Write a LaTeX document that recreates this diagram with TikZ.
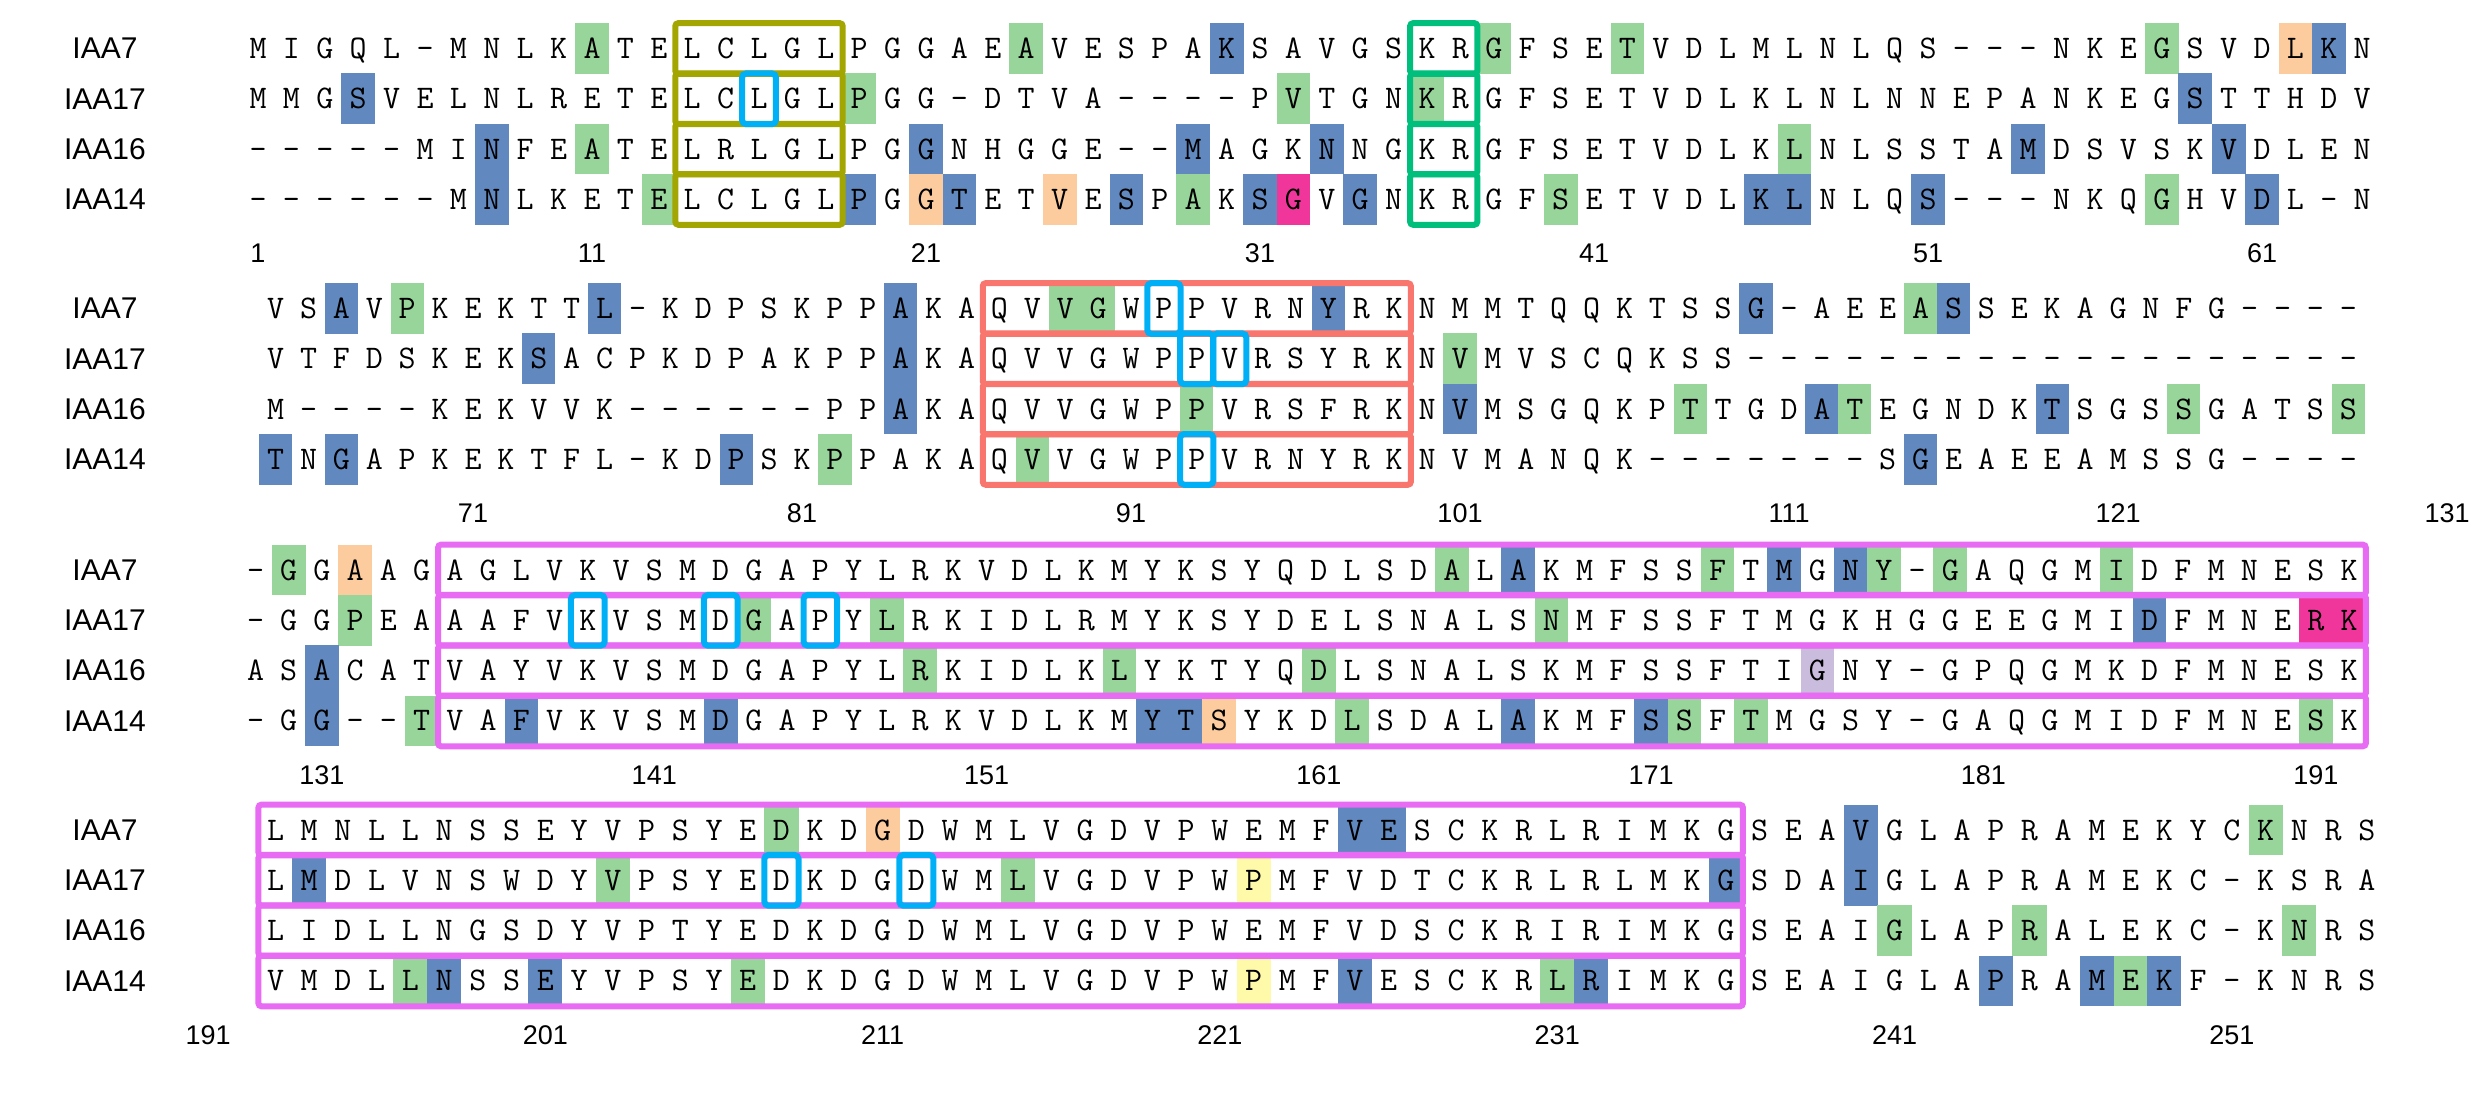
\documentclass[tikz,border=0pt]{standalone}
\usepackage{fontspec}
\setmainfont{Liberation Sans}
\usetikzlibrary{backgrounds}

\definecolor{hgr}{RGB}{152,213,154}
\definecolor{hbl}{RGB}{97,137,192}
\definecolor{hor}{RGB}{252,204,158}
\definecolor{hmg}{RGB}{240,54,154}
\definecolor{hlv}{RGB}{201,188,221}
\definecolor{hyl}{RGB}{255,250,170}
\definecolor{boxol}{RGB}{163,165,0}
\definecolor{boxtl}{RGB}{0,191,125}
\definecolor{boxsl}{RGB}{248,118,109}
\definecolor{boxcy}{RGB}{0,176,246}
\definecolor{boxvi}{RGB}{231,107,243}

% current block: number, x of column 1, column pitch, y of first row
\newcommand{\setblock}[4]{\def\blk{#1}\def\bxo{#2}\def\bpt{#3}\def\byo{#4}}
\newcommand{\seqrow}[2]{%
  \foreach \ch [count=\i] in {#2}
    \node[res,minimum width=\bpt pt] (b\blk r#1c\i) at ({\bxo+(\i-1)*\bpt},{\byo+(#1-1)*50.3}) {\ch};}
\newcommand{\rowtags}{%
  \foreach \nm [count=\rw] in {IAA7,IAA17,IAA16,IAA14}
    \node[tag] (tag\blk r\rw) at (105,{\byo+(\rw-1)*50.3}) {\nm};}
\newcommand{\ruler}[1]{%
  \foreach \n/\cn in {#1}
    \node[tick] (t\blk n\n) at ({\bxo+(\cn-1)*\bpt},{\byo+205}) {\n};}

\begin{document}
\begin{tikzpicture}[x=1pt,y=-1pt,
res/.style={font=\ttfamily\fontsize{33}{33}\selectfont,inner sep=0pt,minimum height=50.3pt,text height=20pt,text depth=0pt},
tag/.style={font=\fontsize{30}{30}\selectfont,inner sep=0pt},
tick/.style={font=\fontsize{27}{27}\selectfont,inner sep=0pt},
rowbox/.style={line width=6pt,rounded corners=3pt},
cellbox/.style={draw=boxcy,line width=6pt,rounded corners=4pt}]
\useasboundingbox (0,0) rectangle (2490,1106);

% block 1
\setblock{1}{258}{33.4}{48.5}
\rowtags
\seqrow{1}{M,I,G,Q,L,–,M,N,L,K,A,T,E,L,C,L,G,L,P,G,G,A,E,A,V,E,S,P,A,K,S,A,V,G,S,K,R,G,F,S,E,T,V,D,L,M,L,N,L,Q,S,–,–,–,N,K,E,G,S,V,D,L,K,N}
\seqrow{2}{M,M,G,S,V,E,L,N,L,R,E,T,E,L,C,L,G,L,P,G,G,–,D,T,V,A,–,–,–,–,P,V,T,G,N,K,R,G,F,S,E,T,V,D,L,K,L,N,L,N,N,E,P,A,N,K,E,G,S,T,T,H,D,V}
\seqrow{3}{–,–,–,–,–,M,I,N,F,E,A,T,E,L,R,L,G,L,P,G,G,N,H,G,G,E,–,–,M,A,G,K,N,N,G,K,R,G,F,S,E,T,V,D,L,K,L,N,L,S,S,T,A,M,D,S,V,S,K,V,D,L,E,N}
\seqrow{4}{–,–,–,–,–,–,M,N,L,K,E,T,E,L,C,L,G,L,P,G,G,T,E,T,V,E,S,P,A,K,S,G,V,G,N,K,R,G,F,S,E,T,V,D,L,K,L,N,L,Q,S,–,–,–,N,K,Q,G,H,V,D,L,–,N}
\ruler{1/1,11/11,21/21,31/31,41/41,51/51,61/61}

% block 2
\setblock{2}{275.6}{32.9}{308.5}
\rowtags
\seqrow{1}{V,S,A,V,P,K,E,K,T,T,L,–,K,D,P,S,K,P,P,A,K,A,Q,V,V,G,W,P,P,V,R,N,Y,R,K,N,M,M,T,Q,Q,K,T,S,S,G,–,A,E,E,A,S,S,E,K,A,G,N,F,G,–,–,–,–}
\seqrow{2}{V,T,F,D,S,K,E,K,S,A,C,P,K,D,P,A,K,P,P,A,K,A,Q,V,V,G,W,P,P,V,R,S,Y,R,K,N,V,M,V,S,C,Q,K,S,S,–,–,–,–,–,–,–,–,–,–,–,–,–,–,–,–,–,–,–}
\seqrow{3}{M,–,–,–,–,K,E,K,V,V,K,–,–,–,–,–,–,P,P,A,K,A,Q,V,V,G,W,P,P,V,R,S,F,R,K,N,V,M,S,G,Q,K,P,T,T,G,D,A,T,E,G,N,D,K,T,S,G,S,S,G,A,T,S,S}
\seqrow{4}{T,N,G,A,P,K,E,K,T,F,L,–,K,D,P,S,K,P,P,A,K,A,Q,V,V,G,W,P,P,V,R,N,Y,R,K,N,V,M,A,N,Q,K,–,–,–,–,–,–,–,S,G,E,A,E,E,A,M,S,S,G,–,–,–,–}
\ruler{71/7,81/17,91/27,101/37,111/47,121/57,131/67}

% block 3
\setblock{3}{255.5}{33.23}{570}
\rowtags
\seqrow{1}{–,G,G,A,A,G,A,G,L,V,K,V,S,M,D,G,A,P,Y,L,R,K,V,D,L,K,M,Y,K,S,Y,Q,D,L,S,D,A,L,A,K,M,F,S,S,F,T,M,G,N,Y,–,G,A,Q,G,M,I,D,F,M,N,E,S,K}
\seqrow{2}{–,G,G,P,E,A,A,A,F,V,K,V,S,M,D,G,A,P,Y,L,R,K,I,D,L,R,M,Y,K,S,Y,D,E,L,S,N,A,L,S,N,M,F,S,S,F,T,M,G,K,H,G,G,E,E,G,M,I,D,F,M,N,E,R,K}
\seqrow{3}{A,S,A,C,A,T,V,A,Y,V,K,V,S,M,D,G,A,P,Y,L,R,K,I,D,L,K,L,Y,K,T,Y,Q,D,L,S,N,A,L,S,K,M,F,S,S,F,T,I,G,N,Y,–,G,P,Q,G,M,K,D,F,M,N,E,S,K}
\seqrow{4}{–,G,G,–,–,T,V,A,F,V,K,V,S,M,D,G,A,P,Y,L,R,K,V,D,L,K,M,Y,T,S,Y,K,D,L,S,D,A,L,A,K,M,F,S,S,F,T,M,G,S,Y,–,G,A,Q,G,M,I,D,F,M,N,E,S,K}
\ruler{131/3,141/13,151/23,161/33,171/43,181/53,191/63}

% block 4
\setblock{4}{275.5}{33.73}{830}
\rowtags
\seqrow{1}{L,M,N,L,L,N,S,S,E,Y,V,P,S,Y,E,D,K,D,G,D,W,M,L,V,G,D,V,P,W,E,M,F,V,E,S,C,K,R,L,R,I,M,K,G,S,E,A,V,G,L,A,P,R,A,M,E,K,Y,C,K,N,R,S}
\seqrow{2}{L,M,D,L,V,N,S,W,D,Y,V,P,S,Y,E,D,K,D,G,D,W,M,L,V,G,D,V,P,W,P,M,F,V,D,T,C,K,R,L,R,L,M,K,G,S,D,A,I,G,L,A,P,R,A,M,E,K,C,–,K,S,R,A}
\seqrow{3}{L,I,D,L,L,N,G,S,D,Y,V,P,T,Y,E,D,K,D,G,D,W,M,L,V,G,D,V,P,W,E,M,F,V,D,S,C,K,R,I,R,I,M,K,G,S,E,A,I,G,L,A,P,R,A,L,E,K,C,–,K,N,R,S}
\seqrow{4}{V,M,D,L,L,N,S,S,E,Y,V,P,S,Y,E,D,K,D,G,D,W,M,L,V,G,D,V,P,W,P,M,F,V,E,S,C,K,R,L,R,I,M,K,G,S,E,A,I,G,L,A,P,R,A,M,E,K,F,–,K,N,R,S}
\ruler{191/-1,201/9,211/19,221/29,231/39,241/49,251/59}

% shaded residues
\begin{scope}[on background layer]
\fill[white] (0,0) rectangle (2490,1106);
\foreach \bk/\rw/\cn/\hc in {
  1/1/11/hgr,1/1/24/hgr,1/1/30/hbl,1/1/38/hgr,1/1/42/hgr,1/1/58/hgr,1/1/62/hor,1/1/63/hbl,
  1/2/4/hbl,1/2/19/hgr,1/2/32/hgr,1/2/36/hgr,1/2/59/hbl,
  1/3/8/hbl,1/3/11/hgr,1/3/21/hbl,1/3/29/hbl,1/3/33/hbl,1/3/47/hgr,1/3/54/hbl,1/3/60/hbl,
  1/4/8/hbl,1/4/13/hgr,1/4/19/hbl,1/4/21/hor,1/4/22/hbl,1/4/25/hor,1/4/27/hbl,1/4/29/hgr,1/4/31/hbl,
  1/4/32/hmg,1/4/34/hbl,1/4/40/hgr,1/4/46/hbl,1/4/47/hbl,1/4/51/hbl,1/4/58/hgr,1/4/61/hbl,
  2/1/3/hbl,2/1/5/hgr,2/1/11/hbl,2/1/20/hbl,2/1/25/hgr,2/1/26/hgr,2/1/33/hbl,2/1/46/hbl,2/1/51/hgr,2/1/52/hbl,
  2/2/9/hbl,2/2/20/hbl,2/2/37/hgr,
  2/3/20/hbl,2/3/29/hgr,2/3/37/hbl,2/3/44/hgr,2/3/48/hbl,2/3/49/hgr,2/3/55/hbl,2/3/59/hgr,2/3/64/hgr,
  2/4/1/hbl,2/4/3/hbl,2/4/15/hbl,2/4/18/hgr,2/4/24/hgr,2/4/51/hbl,
  3/1/2/hgr,3/1/4/hor,3/1/37/hgr,3/1/39/hbl,3/1/45/hgr,3/1/47/hbl,3/1/49/hbl,3/1/50/hgr,3/1/52/hgr,3/1/57/hgr,
  3/2/4/hgr,3/2/16/hgr,3/2/20/hgr,3/2/40/hgr,3/2/58/hbl,3/2/63/hmg,3/2/64/hmg,
  3/3/3/hbl,3/3/21/hgr,3/3/27/hgr,3/3/33/hgr,3/3/48/hlv,
  3/4/3/hbl,3/4/6/hgr,3/4/9/hbl,3/4/15/hbl,3/4/28/hbl,3/4/29/hbl,3/4/30/hor,3/4/34/hgr,3/4/39/hbl,
  3/4/43/hbl,3/4/44/hgr,3/4/46/hgr,3/4/63/hgr,
  4/1/16/hgr,4/1/19/hor,4/1/33/hbl,4/1/34/hbl,4/1/48/hbl,4/1/60/hgr,
  4/2/2/hbl,4/2/11/hgr,4/2/23/hgr,4/2/30/hyl,4/2/44/hbl,4/2/48/hbl,
  4/3/49/hgr,4/3/53/hgr,4/3/61/hgr,
  4/4/5/hgr,4/4/6/hbl,4/4/9/hbl,4/4/15/hgr,4/4/30/hyl,4/4/33/hbl,4/4/39/hgr,4/4/40/hbl,
  4/4/52/hbl,4/4/55/hbl,4/4/56/hgr,4/4/57/hbl}
  \fill[\hc] (b\bk r\rw c\cn.north west) rectangle (b\bk r\rw c\cn.south east);
\end{scope}

% motif boxes
\foreach \rw in {1,...,4}{
  \draw[rowbox,draw=boxol] (b1r\rw c14.north west) rectangle (b1r\rw c18.south east);
  \draw[rowbox,draw=boxtl] (b1r\rw c36.north west) rectangle (b1r\rw c37.south east);
  \draw[rowbox,draw=boxsl] (b2r\rw c23.north west) rectangle (b2r\rw c35.south east);
  \draw[rowbox,draw=boxvi] (b3r\rw c7.north west) rectangle (b3r\rw c64.south east);
  \draw[rowbox,draw=boxvi] (b4r\rw c1.north west) rectangle (b4r\rw c44.south east);
}
\foreach \bk/\rw/\cn in {1/2/16,2/1/28,2/2/29,2/2/30,2/4/29,3/2/11,3/2/15,3/2/18,4/2/16,4/2/20}
  \draw[cellbox] (b\bk r\rw c\cn.north west) rectangle (b\bk r\rw c\cn.south east);
\end{tikzpicture}
\end{document}
